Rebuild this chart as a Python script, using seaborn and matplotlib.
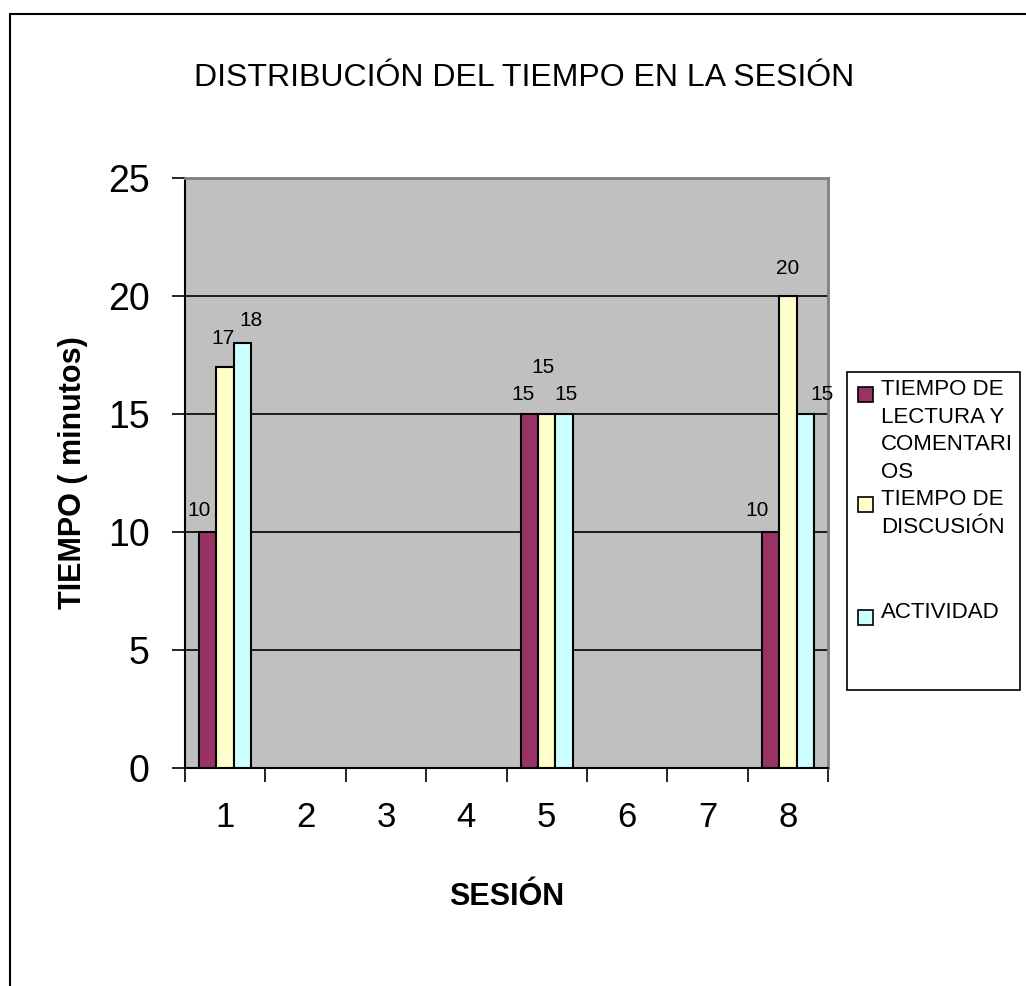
import pandas as pd
import matplotlib.pyplot as plt
import matplotlib.lines as mlines
import matplotlib.patches as mpatches
import seaborn as sns
import numpy as np

sesiones = ["1", "2", "3", "4", "5", "6", "7", "8"]
series = ["TIEMPO DE\nLECTURA Y\nCOMENTARI\nOS", "TIEMPO DE\nDISCUSIÓN", "ACTIVIDAD"]
lectura = [10, np.nan, np.nan, np.nan, 15, np.nan, np.nan, 10]
discusion = [17, np.nan, np.nan, np.nan, 15, np.nan, np.nan, 20]
actividad = [18, np.nan, np.nan, np.nan, 15, np.nan, np.nan, 15]
colores = ["#993366", "#FFFFCC", "#CCFFFF"]

rows = []
for name, vals in zip(series, [lectura, discusion, actividad]):
    for s, v in zip(sesiones, vals):
        rows.append({"SESION": s, "serie": name, "TIEMPO": v})
df = pd.DataFrame(rows)

sns.set_style("white")
plt.rcParams["font.family"] = ["Liberation Sans", "DejaVu Sans"]
plt.rcParams["text.color"] = "black"
plt.rcParams["axes.labelcolor"] = "black"
plt.rcParams["xtick.color"] = "black"
plt.rcParams["ytick.color"] = "black"

W, H = 1026, 986
fig = plt.figure(figsize=(W / 100, H / 100), dpi=100)
ax = fig.add_axes([185 / W, 1 - 768 / H, 643 / W, 590 / H])
ax.set_facecolor("#C0C0C0")

sns.barplot(data=df, x="SESION", y="TIEMPO", hue="serie", order=sesiones,
            hue_order=series, palette=colores, width=0.65, saturation=1,
            edgecolor="black", linewidth=1.5, ax=ax, zorder=3, errorbar=None,
            legend=False)

# label offsets in pixels (series, session index) to mimic the Excel placement
label_off = {
    (0, 0): (-9, 12), (1, 0): (-2, 19), (2, 0): (8, 13),
    (0, 4): (-6, 10), (1, 4): (-4, 37), (2, 4): (2, 10),
    (0, 7): (-13, 12), (1, 7): (0, 18), (2, 7): (17, 10),
}
for i, cont in enumerate(ax.containers):
    for p in cont.patches:
        h = p.get_height()
        if np.isnan(h) or h == 0:
            continue
        xc = p.get_x() + p.get_width() / 2
        j = int(round(xc))
        dx, dy = label_off.get((i, j), (0, 10))
        ax.annotate(f"{int(h)}", (xc, h), xytext=(dx, dy), textcoords="offset pixels",
                    ha="center", va="bottom", fontsize=15, zorder=5)

ax.set_ylim(0, 25)
ax.set_xlim(-0.5, 7.5)
ax.set_yticks([0, 5, 10, 15, 20, 25])
ax.yaxis.grid(True, color="black", linewidth=1.2, zorder=1)
ax.set_axisbelow(True)
ax.tick_params(axis="y", length=9.5, width=1.2, pad=16, labelsize=27, left=True)

ax.set_xticks(np.arange(-0.5, 8, 1))
ax.set_xticklabels([])
ax.set_xticks(np.arange(8), minor=True)
ax.set_xticklabels(sesiones, minor=True)
ax.tick_params(axis="x", which="major", length=10, width=1.2, bottom=True,
               direction="out")
ax.tick_params(axis="x", which="minor", length=0, pad=24, labelsize=25)

for s in ["left", "bottom"]:
    ax.spines[s].set_color("black")
    ax.spines[s].set_linewidth(1.5)
for s in ["top", "right"]:
    ax.spines[s].set_visible(True)
    ax.spines[s].set_color("#808080")
    ax.spines[s].set_linewidth(2)

ax.set_xlabel("SESIÓN", fontsize=22, fontweight="bold")
ax.xaxis.set_label_coords(0.5, (768 - 882) / 590)
ax.set_ylabel("TIEMPO ( minutos)", fontsize=22, fontweight="bold")
ax.yaxis.set_label_coords((88 - 185) / 643, 0.5)
fig.text(524 / W, 1 - 78 / H, "DISTRIBUCIÓN DEL TIEMPO EN LA SESIÓN",
         ha="center", va="center", fontsize=23)

# legend box drawn like the Excel one: square aligned with the first text line
fig.add_artist(mpatches.Rectangle((847 / W, 1 - 690 / H), 173 / W, 318 / H,
                                  transform=fig.transFigure, facecolor="white",
                                  edgecolor="black", linewidth=1.2))
entry_top = [382, 492, 605]
for name, col, top in zip(series, colores, entry_top):
    fig.add_artist(mpatches.Rectangle((858 / W, 1 - (top + 20) / H), 15 / W, 15 / H,
                                      transform=fig.transFigure, facecolor=col,
                                      edgecolor="black", linewidth=1.2))
    fig.text(881 / W, 1 - (top - 3) / H, name, ha="left", va="top", fontsize=16,
             linespacing=1.42)

# outer chart border (top and left)
fig.add_artist(mlines.Line2D([10 / W, 1], [1 - 14 / H] * 2, color="black", lw=1.5,
                             transform=fig.transFigure))
fig.add_artist(mlines.Line2D([10 / W] * 2, [0, 1 - 14 / H], color="black", lw=1.5,
                             transform=fig.transFigure))

fig.savefig("out.png", dpi=100)
